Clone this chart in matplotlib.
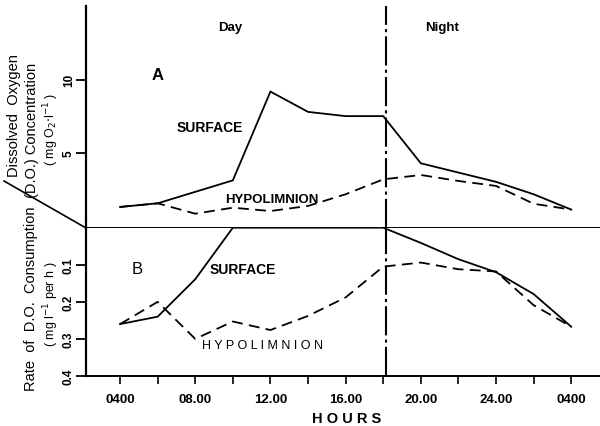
import matplotlib
matplotlib.use("Agg")
import matplotlib.pyplot as plt
from matplotlib.lines import Line2D

plt.rcParams['font.family'] = ['Liberation Sans', 'DejaVu Sans']

# ---- data ----
# Panel A: dissolved oxygen concentration (mg O2 l-1)
surf_a_hours = [4, 6, 10, 12, 14, 16, 18, 20, 24, 26, 28]
surf_a_do = [1.28, 1.53, 3.1, 9.18, 7.79, 7.5, 7.5, 4.27, 3.0, 2.15, 1.1]
hypo_a_hours = [4, 6, 8, 10, 12, 14, 16, 18, 20, 22, 24, 26, 28]
hypo_a_do = [1.28, 1.53, 0.82, 1.23, 1.0, 1.35, 2.15, 3.17, 3.47, 3.06, 2.72, 1.5, 1.1]

# Panel B: rate of D.O. consumption (mg l-1 per h)
surf_b_hours = [4, 6, 8, 10, 18, 20, 22, 24, 26, 28]
surf_b_rate = [0.26, 0.24, 0.139, 0.0, 0.0, 0.041, 0.085, 0.12, 0.179, 0.267]
hypo_b_hours = [4, 6, 8, 10, 12, 14, 16, 18, 20, 22, 24, 26, 28]
hypo_b_rate = [0.26, 0.20, 0.30, 0.253, 0.276, 0.238, 0.188, 0.105, 0.094, 0.112, 0.118, 0.209, 0.267]

xtick_pos = [4, 8, 12, 16, 20, 24, 28]
xtick_labels = ["0400", "08.00", "12.00", "16.00", "20.00", "24.00", "0400"]
ya_ticks = [5, 10]
yb_ticks = [0.1, 0.2, 0.3, 0.4]
day_night_boundary = 18.17

W, H = 600, 427
fig = plt.figure(figsize=(6.0, 4.27), dpi=100)

def fx(x):
    return x / W

def fy(y):
    return 1 - y / H

left = fx(86)
axA = fig.add_axes([left, fy(228.7), 1 - left, fy(7) - fy(228.7)])
axB = fig.add_axes([left, fy(377), 1 - left, fy(228.7) - fy(377)])

xlim = (2.19, 29.53)
lw = 1.3

# Panel A
axA.plot(surf_a_hours, surf_a_do, color='black', lw=lw, solid_joinstyle='miter')
axA.plot(hypo_a_hours, hypo_a_do, color='black', lw=lw, dashes=(6, 3.5))
axA.set_xlim(*xlim)
axA.set_ylim(-0.14, 15.04)
axA.spines['top'].set_visible(False)
axA.spines['right'].set_visible(False)
axA.spines['left'].set_linewidth(1.6)
axA.spines['bottom'].set_linewidth(1.4)
axA.set_xticks([])
axA.set_yticks(ya_ticks)
axA.set_yticklabels([str(v) for v in ya_ticks], rotation=90, va='center',
                    fontsize=8.5, fontweight='bold')
axA.tick_params(axis='y', direction='out', length=7, width=1.3, pad=1)

# Panel B
axB.plot(surf_b_hours, surf_b_rate, color='black', lw=lw)
axB.plot(hypo_b_hours, hypo_b_rate, color='black', lw=lw, dashes=(6, 3.5))
axB.set_xlim(*xlim)
axB.set_ylim(0.4, 0.0)
axB.spines['top'].set_visible(False)
axB.spines['right'].set_visible(False)
axB.spines['left'].set_linewidth(1.6)
axB.spines['bottom'].set_linewidth(1.4)
axB.set_yticks(yb_ticks)
axB.set_yticklabels([f"{v:.1f}" for v in yb_ticks], rotation=90, va='center',
                    fontsize=8.5, fontweight='bold')
axB.tick_params(axis='y', direction='out', length=7, width=1.3, pad=1)
axB.set_xticks(xtick_pos)
axB.set_xticklabels(xtick_labels, fontsize=9.5, fontweight='bold')
axB.set_xticks(list(range(6, 28, 4)), minor=True)
axB.tick_params(axis='x', which='both', direction='out', length=6, width=1.2, pad=6)

# day/night boundary
for ax in (axA, axB):
    ax.axvline(day_night_boundary, color='black', lw=1.5, dashes=(14, 2, 1.5, 2))

# decorative diagonal divider on the left
fig.add_artist(Line2D([fx(4), fx(86)], [fy(182), fy(229)], color='black', lw=1.2,
                      transform=fig.transFigure))

# labels
fig.text(fx(14), fy(116), "Dissolved  Oxygen", rotation=90, ha='center', va='center', fontsize=10.5)
fig.text(fx(32), fy(130), "(D.O.) Concentration", rotation=90, ha='center', va='center', fontsize=10.5)
fig.text(fx(51), fy(129), "( mg O$_2$$\\cdot$l$^{-1}$ )", rotation=90, ha='center', va='center', fontsize=9)
fig.text(fx(31), fy(299), "Rate  of  D.O.  Consumption", rotation=90, ha='center', va='center', fontsize=10.5)
fig.text(fx(51), fy(304), "( mg l$^{-1}$ per h )", rotation=90, ha='center', va='center', fontsize=9)

fig.text(fx(230), fy(28), "Day", ha='center', va='center', fontsize=9.5, fontweight='bold')
fig.text(fx(442), fy(28), "Night", ha='center', va='center', fontsize=9.5, fontweight='bold')
fig.text(fx(158), fy(75), "A", ha='center', va='center', fontsize=12, fontweight='bold')
fig.text(fx(210), fy(128), "SURFACE", ha='center', va='center', fontsize=10, fontweight='bold')
fig.text(fx(272), fy(200), "HYPOLIMNION", ha='center', va='center', fontsize=9.5, fontweight='bold')
fig.text(fx(137), fy(269), "B", ha='center', va='center', fontsize=12)
fig.text(fx(243), fy(270), "SURFACE", ha='center', va='center', fontsize=10, fontweight='bold')
fig.text(fx(262), fy(346), "H Y P O L I M N I O N", ha='center', va='center', fontsize=9)
fig.text(fx(347), fy(419), "H O U R S", ha='center', va='center', fontsize=10.5, fontweight='bold')

fig.savefig("out.png", dpi=100)
